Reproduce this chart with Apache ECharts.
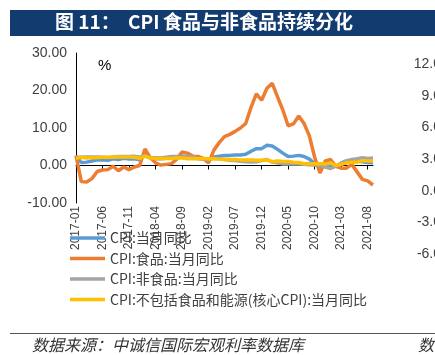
<!DOCTYPE html>
<html><head><meta charset="utf-8">
<script src="https://cdn.jsdelivr.net/npm/echarts@6/dist/echarts.min.js"></script>
<style>html,body{margin:0;padding:0;background:#fff;overflow:hidden}#c{width:435px;height:355px}</style>
</head><body><div id="c"></div>
<script>
const months = [
 '2017-01','2017-02','2017-03','2017-04','2017-05','2017-06','2017-07','2017-08','2017-09','2017-10','2017-11','2017-12',
 '2018-01','2018-02','2018-03','2018-04','2018-05','2018-06','2018-07','2018-08','2018-09','2018-10','2018-11','2018-12',
 '2019-01','2019-02','2019-03','2019-04','2019-05','2019-06','2019-07','2019-08','2019-09','2019-10','2019-11','2019-12',
 '2020-01','2020-02','2020-03','2020-04','2020-05','2020-06','2020-07','2020-08','2020-09','2020-10','2020-11','2020-12',
 '2021-01','2021-02','2021-03','2021-04','2021-05','2021-06','2021-07','2021-08','2021-09'
];
const cpi = [
 2.5,0.8,0.9,1.2,1.5,1.5,1.4,1.8,1.6,1.9,1.7,1.8,
 1.5,2.9,2.1,1.8,1.8,1.9,2.1,2.3,2.5,2.5,2.2,1.9,
 1.7,1.5,2.3,2.5,2.7,2.7,2.8,2.8,3.0,3.8,4.5,4.5,
 5.4,5.2,4.3,3.3,2.4,2.5,2.7,2.4,1.7,0.5,-0.5,0.2,
 -0.3,-0.2,0.4,0.9,1.3,1.1,1.0,0.8,0.7
];
const food = [
 2.7,-4.3,-4.4,-3.5,-1.6,-1.2,-1.1,-0.2,-1.4,-0.4,-1.1,-0.4,
 0.0,4.4,2.1,0.7,0.1,0.3,0.5,1.7,3.6,3.3,2.5,2.4,
 1.9,0.7,4.1,6.1,7.7,8.3,9.1,10.0,11.2,15.5,19.1,17.4,
 20.6,21.9,18.3,14.8,10.6,11.1,13.2,11.2,7.9,2.2,-2.0,1.2,
 1.6,-0.2,-0.7,-0.7,0.3,-1.7,-3.7,-4.1,-5.2
];
const nonFood = [
 2.2,2.2,2.3,2.3,2.3,2.2,2.1,2.3,2.4,2.4,2.4,2.5,
 2.2,2.6,2.1,2.1,2.0,2.2,2.4,2.4,2.2,2.4,2.3,1.8,
 1.7,1.6,1.9,1.8,1.6,1.4,1.3,1.1,1.0,0.9,1.0,1.3,
 1.6,0.9,0.7,0.4,0.4,0.4,0.4,0.3,0.2,0.1,0.0,-0.4,
 -0.8,-0.2,0.7,1.3,1.6,1.8,2.1,1.9,2.0
];
const core = [
 1.9,2.2,2.0,2.1,2.1,2.2,2.2,2.2,2.3,2.3,2.3,2.2,
 1.9,2.5,2.0,1.9,1.9,1.9,1.9,2.0,2.0,1.8,1.8,1.8,
 1.9,1.8,1.8,1.7,1.6,1.6,1.6,1.5,1.5,1.5,1.4,1.4,
 1.5,1.0,1.2,1.1,1.1,0.9,0.8,0.5,0.5,0.5,0.5,0.4,
 0.7,0.0,0.3,0.7,0.9,0.9,1.3,1.2,1.2
];
const seriesNames = ['CPI:当月同比','CPI:食品:当月同比','CPI:非食品:当月同比','CPI:不包括食品和能源(核心CPI):当月同比'];
const seriesColors = ['#5B9BD5','#ED7D31','#A5A5A5','#FFC000'];
const seriesData = [cpi, food, nonFood, core];

const chart = echarts.init(document.getElementById('c'), null, {renderer:'canvas'});
const cjk = '"Noto Sans CJK SC", sans-serif';
const lat = '"Liberation Sans", Arial, sans-serif';
chart.setOption({
  animation:false,
  backgroundColor:'#fff',
  grid:[
    {left:76, top:53, width:297, height:150},
    {left:449, top:64, width:100, height:190}
  ],
  xAxis:[
    {gridIndex:0, type:'category', data:months, boundaryGap:false,
     axisLine:{onZero:true, lineStyle:{color:'#000', width:1}},
     axisTick:{show:true, interval:4, length:4, lineStyle:{color:'#000'}},
     axisLabel:{interval:4, rotate:90, fontSize:12, margin:3, color:'#404040', fontFamily:'Liberation Sans'},
     splitLine:{show:false}},
    {gridIndex:1, type:'value', min:0, max:1, show:false}
  ],
  yAxis:[
    {gridIndex:0, type:'value', min:-10, max:30, interval:10,
     axisLine:{show:true, onZero:false, lineStyle:{color:'#000', width:1}},
     axisTick:{show:false}, splitLine:{show:false},
     axisLabel:{fontSize:14, margin:9, color:'#404040', fontFamily:'Liberation Sans', formatter:v=>v.toFixed(2)}},
    {gridIndex:1, type:'value', min:-6, max:12, interval:3,
     axisLine:{show:false}, axisTick:{show:false}, splitLine:{show:false},
     axisLabel:{fontSize:14, margin:8, color:'#404040', fontFamily:'Liberation Sans', formatter:v=>v.toFixed(1)}}
  ],
  legend:{
    orient:'vertical', left:70, top:231, padding:0, icon:'rect', itemWidth:35, itemHeight:3.5, itemGap:6.5,
    textStyle:{fontSize:14, lineHeight:14, color:'#404040', fontFamily:'Noto Sans CJK SC'},
    data:seriesNames
  },
  series: seriesNames.map((n,i)=>({
    name:n, type:'line', xAxisIndex:0, yAxisIndex:0, data:seriesData[i],
    symbol:'none', lineStyle:{width:3.5, color:seriesColors[i]}, itemStyle:{color:seriesColors[i]},
    z:2+i
  })),
  graphic:[
    {type:'rect', left:10, top:10, shape:{width:425, height:26}, style:{fill:'#123b70'}, z:0},
    {type:'text', left:55, top:12, style:{text:'图 11：', fill:'#fff', font:'bold 19px '+cjk}},
    {type:'text', left:128, top:12, style:{text:'CPI', fill:'#fff', font:'bold 19px '+cjk}},
    {type:'text', left:163, top:12, style:{text:'食品与非食品持续分化', fill:'#fff', font:'bold 19px '+cjk}},
    {type:'text', left:98, top:58, style:{text:'%', fill:'#000', font:'15px '+lat}},
    {type:'line', shape:{x1:10, y1:333.5, x2:435, y2:333.5}, style:{stroke:'#555', lineWidth:1}},
    {type:'text', left:32, top:337, style:{text:'数据来源：中诚信国际宏观利率数据库', fill:'#333', font:'italic 16px '+cjk}},
    {type:'text', left:418, top:337, style:{text:'数', fill:'#333', font:'italic 16px '+cjk}}
  ]
});
</script></body></html>
